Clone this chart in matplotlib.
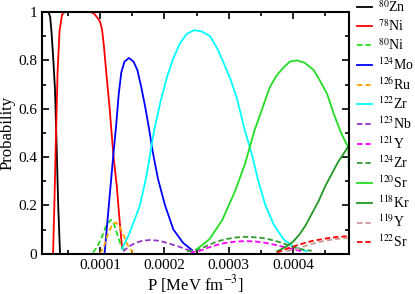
import matplotlib
matplotlib.use("Agg")
import matplotlib.pyplot as plt
import numpy as np

plt.rcParams["font.family"] = "Liberation Serif"
plt.rcParams["mathtext.fontset"] = "stix"

# pressure in units of 1e-4 MeV fm^-3, probability
zn80_p = [0.098, 0.2, 0.225, 0.245, 0.27, 0.30, 0.327, 0.35, 0.378]
zn80_v = [1.0, 1.0, 0.98, 0.92, 0.82, 0.68, 0.43, 0.2, 0.0]

ni78_p = [0.27, 0.29, 0.31, 0.34, 0.37, 0.41, 0.45, 0.6, 0.85, 0.9, 0.95, 1.0, 1.03,
          1.06, 1.1, 1.15, 1.17, 1.21, 1.26, 1.30, 1.34]
ni78_v = [0.0, 0.2, 0.43, 0.75, 0.92, 0.99, 1.0, 1.0, 1.0, 0.995, 0.98, 0.96, 0.93,
          0.86, 0.74, 0.6, 0.53, 0.4, 0.28, 0.15, 0.03]

ni80_p = [0.89, 0.96, 1.03, 1.1, 1.17, 1.22, 1.28, 1.33, 1.40]
ni80_v = [0.005, 0.03, 0.07, 0.12, 0.14, 0.12, 0.07, 0.03, 0.01]

mo124_p = [1.07, 1.12, 1.17, 1.21, 1.25, 1.29, 1.33, 1.38, 1.45, 1.52, 1.58, 1.64,
           1.70, 1.76, 1.82, 1.90, 2.01, 2.14, 2.29, 2.43]
mo124_v = [0.0, 0.15, 0.3, 0.42, 0.53, 0.66, 0.75, 0.795, 0.81, 0.795, 0.76, 0.69,
           0.61, 0.52, 0.42, 0.31, 0.2, 0.1, 0.045, 0.015]

ru126_p = [1.0, 1.06, 1.12, 1.18, 1.24, 1.3, 1.36, 1.42, 1.47, 1.51]
ru126_v = [0.0, 0.03, 0.08, 0.115, 0.13, 0.115, 0.08, 0.04, 0.02, 0.005]

zr122_p = [1.34, 1.45, 1.55, 1.62, 1.72, 1.84, 1.94, 2.04, 2.14, 2.24, 2.35, 2.46,
           2.58, 2.71, 2.82, 2.92, 3.03, 3.13, 3.24, 3.36, 3.46, 3.57, 3.7, 3.85,
           4.0, 4.21]
zr122_v = [0.02, 0.08, 0.15, 0.2, 0.32, 0.51, 0.63, 0.73, 0.81, 0.87, 0.91, 0.925,
           0.92, 0.90, 0.85, 0.79, 0.72, 0.64, 0.52, 0.41, 0.3, 0.2, 0.12, 0.06,
           0.03, 0.01]

nb123_p = [1.36, 1.45, 1.55, 1.65, 1.78, 1.9, 2.0, 2.12, 2.24, 2.34, 2.43]
nb123_v = [0.01, 0.03, 0.045, 0.053, 0.057, 0.054, 0.048, 0.038, 0.028, 0.018, 0.012]

y121_p = [2.4, 2.55, 2.68, 2.81, 2.95, 3.1, 3.25, 3.4, 3.55, 3.7, 3.85, 4.0, 4.14]
y121_v = [0.005, 0.012, 0.025, 0.036, 0.045, 0.05, 0.052, 0.051, 0.046, 0.038,
          0.028, 0.018, 0.01]

zr124_p = [2.35, 2.45, 2.56, 2.68, 2.81, 2.95, 3.1, 3.25, 3.4, 3.55, 3.7, 3.85,
           3.95, 4.06, 4.18, 4.29]
zr124_v = [0.01, 0.014, 0.02, 0.035, 0.05, 0.06, 0.067, 0.07, 0.068, 0.064, 0.055,
           0.043, 0.032, 0.022, 0.016, 0.012]

sr120_p = [2.51, 2.7, 2.9, 3.1, 3.25, 3.40, 3.52, 3.64, 3.75, 3.85, 3.95, 4.06,
           4.18, 4.32, 4.43, 4.53, 4.63, 4.73, 4.80, 4.86, 4.87]
sr120_v = [0.02, 0.06, 0.14, 0.26, 0.37, 0.51, 0.6, 0.69, 0.74, 0.77, 0.795, 0.80,
           0.79, 0.76, 0.71, 0.66, 0.58, 0.51, 0.47, 0.44, 0.28]

kr118_p = [3.75, 3.9, 4.0, 4.1, 4.2, 4.3, 4.4, 4.5, 4.6, 4.7, 4.8, 4.87]
kr118_v = [0.01, 0.03, 0.05, 0.08, 0.12, 0.17, 0.22, 0.28, 0.33, 0.38, 0.42, 0.45]

y119_p = [3.9, 4.05, 4.2, 4.35, 4.5, 4.65, 4.8, 4.87]
y119_v = [0.01, 0.02, 0.033, 0.045, 0.054, 0.06, 0.064, 0.065]

sr122_p = [3.75, 3.85, 3.95, 4.11, 4.3, 4.53, 4.7, 4.87]
sr122_v = [0.005, 0.015, 0.025, 0.039, 0.053, 0.064, 0.07, 0.073]

series = [
    (zn80_p, zn80_v, r"$^{80}$Zn", "black", "-"),
    (ni78_p, ni78_v, r"$^{78}$Ni", "#ff0000", "-"),
    (ni80_p, ni80_v, r"$^{80}$Ni", "#22dd22", "--"),
    (mo124_p, mo124_v, r"$^{124}$Mo", "#0000ff", "-"),
    (ru126_p, ru126_v, r"$^{126}$Ru", "#ffa500", "--"),
    (zr122_p, zr122_v, r"$^{122}$Zr", "#00ffff", "-"),
    (nb123_p, nb123_v, r"$^{123}$Nb", "#9933cc", "--"),
    (y121_p, y121_v, r"$^{121}$Y", "#ff00ff", "--"),
    (zr124_p, zr124_v, r"$^{124}$Zr", "#339933", "--"),
    (sr120_p, sr120_v, r"$^{120}$Sr", "#22dd22", "-"),
    (kr118_p, kr118_v, r"$^{118}$Kr", "#229922", "-"),
    (y119_p, y119_v, r"$^{119}$Y", "#cc9999", "--"),
    (sr122_p, sr122_v, r"$^{122}$Sr", "#ff0000", "--"),
]

fig = plt.figure(figsize=(4.15, 2.94), dpi=100)
ax = fig.add_axes([0.1012, 0.137, 0.74, 0.822])

for p, v, name, c, ls in series:
    line, = ax.plot(np.array(p) * 1e-4, v, color=c, linestyle=ls, lw=1.3, label=name)
    if ls == "--":
        line.set_dashes((3, 1.6))

ax.set_xlim(0.098e-4, 4.87e-4)
ax.set_ylim(0, 1)
ax.set_xticks([1e-4, 2e-4, 3e-4, 4e-4])
ax.set_xticklabels(["0.0001", "0.0002", "0.0003", "0.0004"])
ax.set_xticks(np.arange(0.5e-4, 4.9e-4, 0.5e-4), minor=True)
ax.set_yticks([0, 0.2, 0.4, 0.6, 0.8, 1.0])
ax.set_yticklabels(["0", "0.2", "0.4", "0.6", "0.8", "1"])
ax.set_yticks(np.arange(0.1, 1.0, 0.2), minor=True)
ax.tick_params(which="both", direction="in", top=True, right=True, labelsize=11,
               width=1.2)
ax.tick_params(which="major", length=5)
ax.tick_params(which="minor", length=3)
for s in ax.spines.values():
    s.set_linewidth(1.5)

ax.set_xlabel(r"P [MeV fm$^{-3}$]", fontsize=12, labelpad=1)
ax.set_ylabel("Probability", fontsize=12, labelpad=2)

ax.legend(loc="upper left", bbox_to_anchor=(1.008, 1.076), frameon=False, fontsize=10,
          handlelength=1.05, handletextpad=0.45, labelspacing=0.23, borderaxespad=0.0,
          borderpad=0.4)

fig.savefig("out.png", dpi=100)
